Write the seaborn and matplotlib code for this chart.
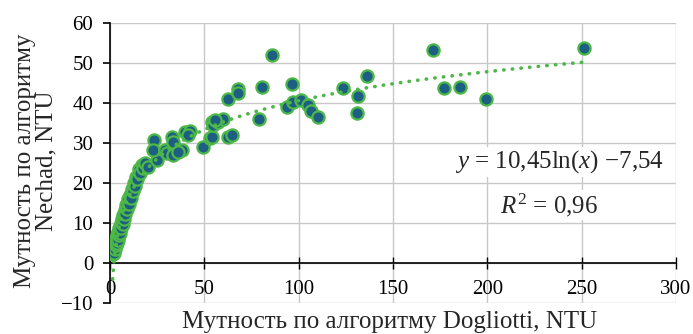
import numpy as np
import pandas as pd
import matplotlib
matplotlib.use("Agg")
import matplotlib.pyplot as plt
import seaborn as sns

# ---- data ----
dogliotti = [
    1.5, 1.8, 2.0, 2.2, 2.5, 2.7, 3.0, 3.2, 3.5, 3.8, 4.0, 4.3, 4.6, 5.0, 5.3,
    5.6, 6.0, 6.3, 6.7, 7.0, 7.4, 7.8, 8.2, 8.6, 9.0, 9.5, 10.0, 10.5, 11.0,
    11.5, 12.0, 12.6, 13.2, 13.8, 14.5, 15.2, 16.0, 17.0, 18.0, 17.7, 18.6,
    20.3, 24.8, 23.3, 23.0, 29.2, 30.0, 32.7, 33.6, 33.6, 38.0, 36.2, 39.8,
    42.4, 41.5, 49.5, 53.0, 53.9, 53.9, 54.8, 57.4, 60.1, 55.7, 62.7, 64.5,
    62.4, 67.7, 67.7, 80.4, 79.2, 85.7, 96.3, 93.7, 97.0, 101.0, 105.0, 106.4,
    110.5, 123.6, 130.8, 131.7, 136.4, 171.0, 177.0, 185.6, 199.4, 251.0,
]
nechad = [
    2.3, 3.4, 2.6, 4.1, 3.5, 5.0, 4.4, 6.0, 5.1, 6.9, 5.8, 7.8, 6.9, 8.7, 7.6,
    9.9, 8.8, 10.9, 9.8, 12.0, 11.1, 13.2, 12.3, 14.6, 13.4, 15.9, 14.8, 17.1,
    16.3, 18.6, 17.9, 19.9, 19.3, 21.6, 21.0, 23.4, 22.6, 24.5, 23.9, 23.7,
    24.9, 24.1, 25.75, 30.75, 28.25, 28.25, 27.4, 31.6, 30.3, 27.0, 28.25,
    27.8, 32.8, 33.0, 32.0, 29.1, 31.2, 31.6, 35.3, 34.5, 35.3, 36.0, 35.75,
    31.6, 32.0, 41.0, 43.4, 42.6, 44.1, 35.9, 52.0, 44.7, 39.1, 40.3, 40.7,
    39.5, 38.1, 36.6, 43.7, 37.6, 41.75, 46.75, 53.25, 43.7, 44.1, 41.0, 53.7,
]
fit_a = 10.45
fit_b = -7.54
fit_x_range = [1.4, 250.0]
eq_text = r"$y$ = 10,45ln($x$) −7,54"
r2_text = r"$R^2$ = 0,96"
x_ticks = [0, 50, 100, 150, 200, 250, 300]
y_ticks = [-10, 0, 10, 20, 30, 40, 50, 60]
x_label = "Мутность по алгоритму Dogliotti, NTU"
y_label = "Мутность по алгоритму\nNechad, NTU"

# ---- style ----
sns.set_style("white")
plt.rcParams["font.family"] = ["Liberation Serif", "DejaVu Serif"]
plt.rcParams["mathtext.fontset"] = "custom"
plt.rcParams["mathtext.rm"] = "Liberation Serif"
plt.rcParams["mathtext.it"] = "Liberation Serif:italic"
plt.rcParams["axes.unicode_minus"] = True

df = pd.DataFrame({"x": dogliotti, "y": nechad})
fx = np.geomspace(fit_x_range[0], fit_x_range[1], 400)
fit_df = pd.DataFrame({"x": fx, "y": fit_a * np.log(fx) + fit_b})

fig = plt.figure(figsize=(6.93, 3.34), dpi=100)
ax = fig.add_axes([110 / 693, 1 - 303 / 334, 566 / 693, 280 / 334])

face = "#1d5f82"
green = "#4db848"

sns.scatterplot(data=df, x="x", y="y", ax=ax, s=78, color=face,
                edgecolor=green, linewidth=1.6, zorder=3, legend=False)
sns.lineplot(data=fit_df, x="x", y="y", ax=ax, color=green, lw=2.6,
             linestyle=(0, (0.1, 2.3)), dash_capstyle="round", zorder=4,
             legend=False)

ax.set_xlim(0, 300)
ax.set_ylim(-10, 60)
ax.set_xticks(x_ticks)
ax.set_yticks(y_ticks)
ax.grid(True, color="#c8c8c8", lw=1.0, zorder=0)
ax.set_axisbelow(True)

for s in ["top", "right"]:
    ax.spines[s].set_visible(False)
ax.spines["bottom"].set_position(("data", 0))
ax.spines["left"].set_color("black")
ax.spines["bottom"].set_color("black")
ax.spines["left"].set_linewidth(1.2)
ax.spines["bottom"].set_linewidth(1.2)
ax.spines["left"].set_zorder(2)
ax.spines["bottom"].set_zorder(2)

ax.tick_params(axis="y", direction="out", length=5, width=1.2, pad=7,
               labelsize=15, left=True, colors="black")
ax.tick_params(axis="x", direction="inout", length=8, width=1.0, pad=8,
               labelsize=15, bottom=True, colors="black")
ax.set_xlabel("")
ax.set_ylabel("")

fig.text(390 / 693, 1 - 322 / 334, x_label, ha="center", va="center",
         fontsize=18)
fig.text(36 / 693, 1 - 161 / 334, y_label, ha="center", va="center",
         rotation=90, fontsize=18, multialignment="center", linespacing=0.95)

ax.text(293.5, 25.3, eq_text, ha="right", va="center", fontsize=18,
        bbox=dict(facecolor="white", edgecolor="none", pad=1), zorder=5)
ax.text(232.5, 14.5, r2_text, ha="center", va="center", fontsize=18,
        bbox=dict(facecolor="white", edgecolor="none", pad=1), zorder=5)

fig.savefig("out.png", dpi=100)
